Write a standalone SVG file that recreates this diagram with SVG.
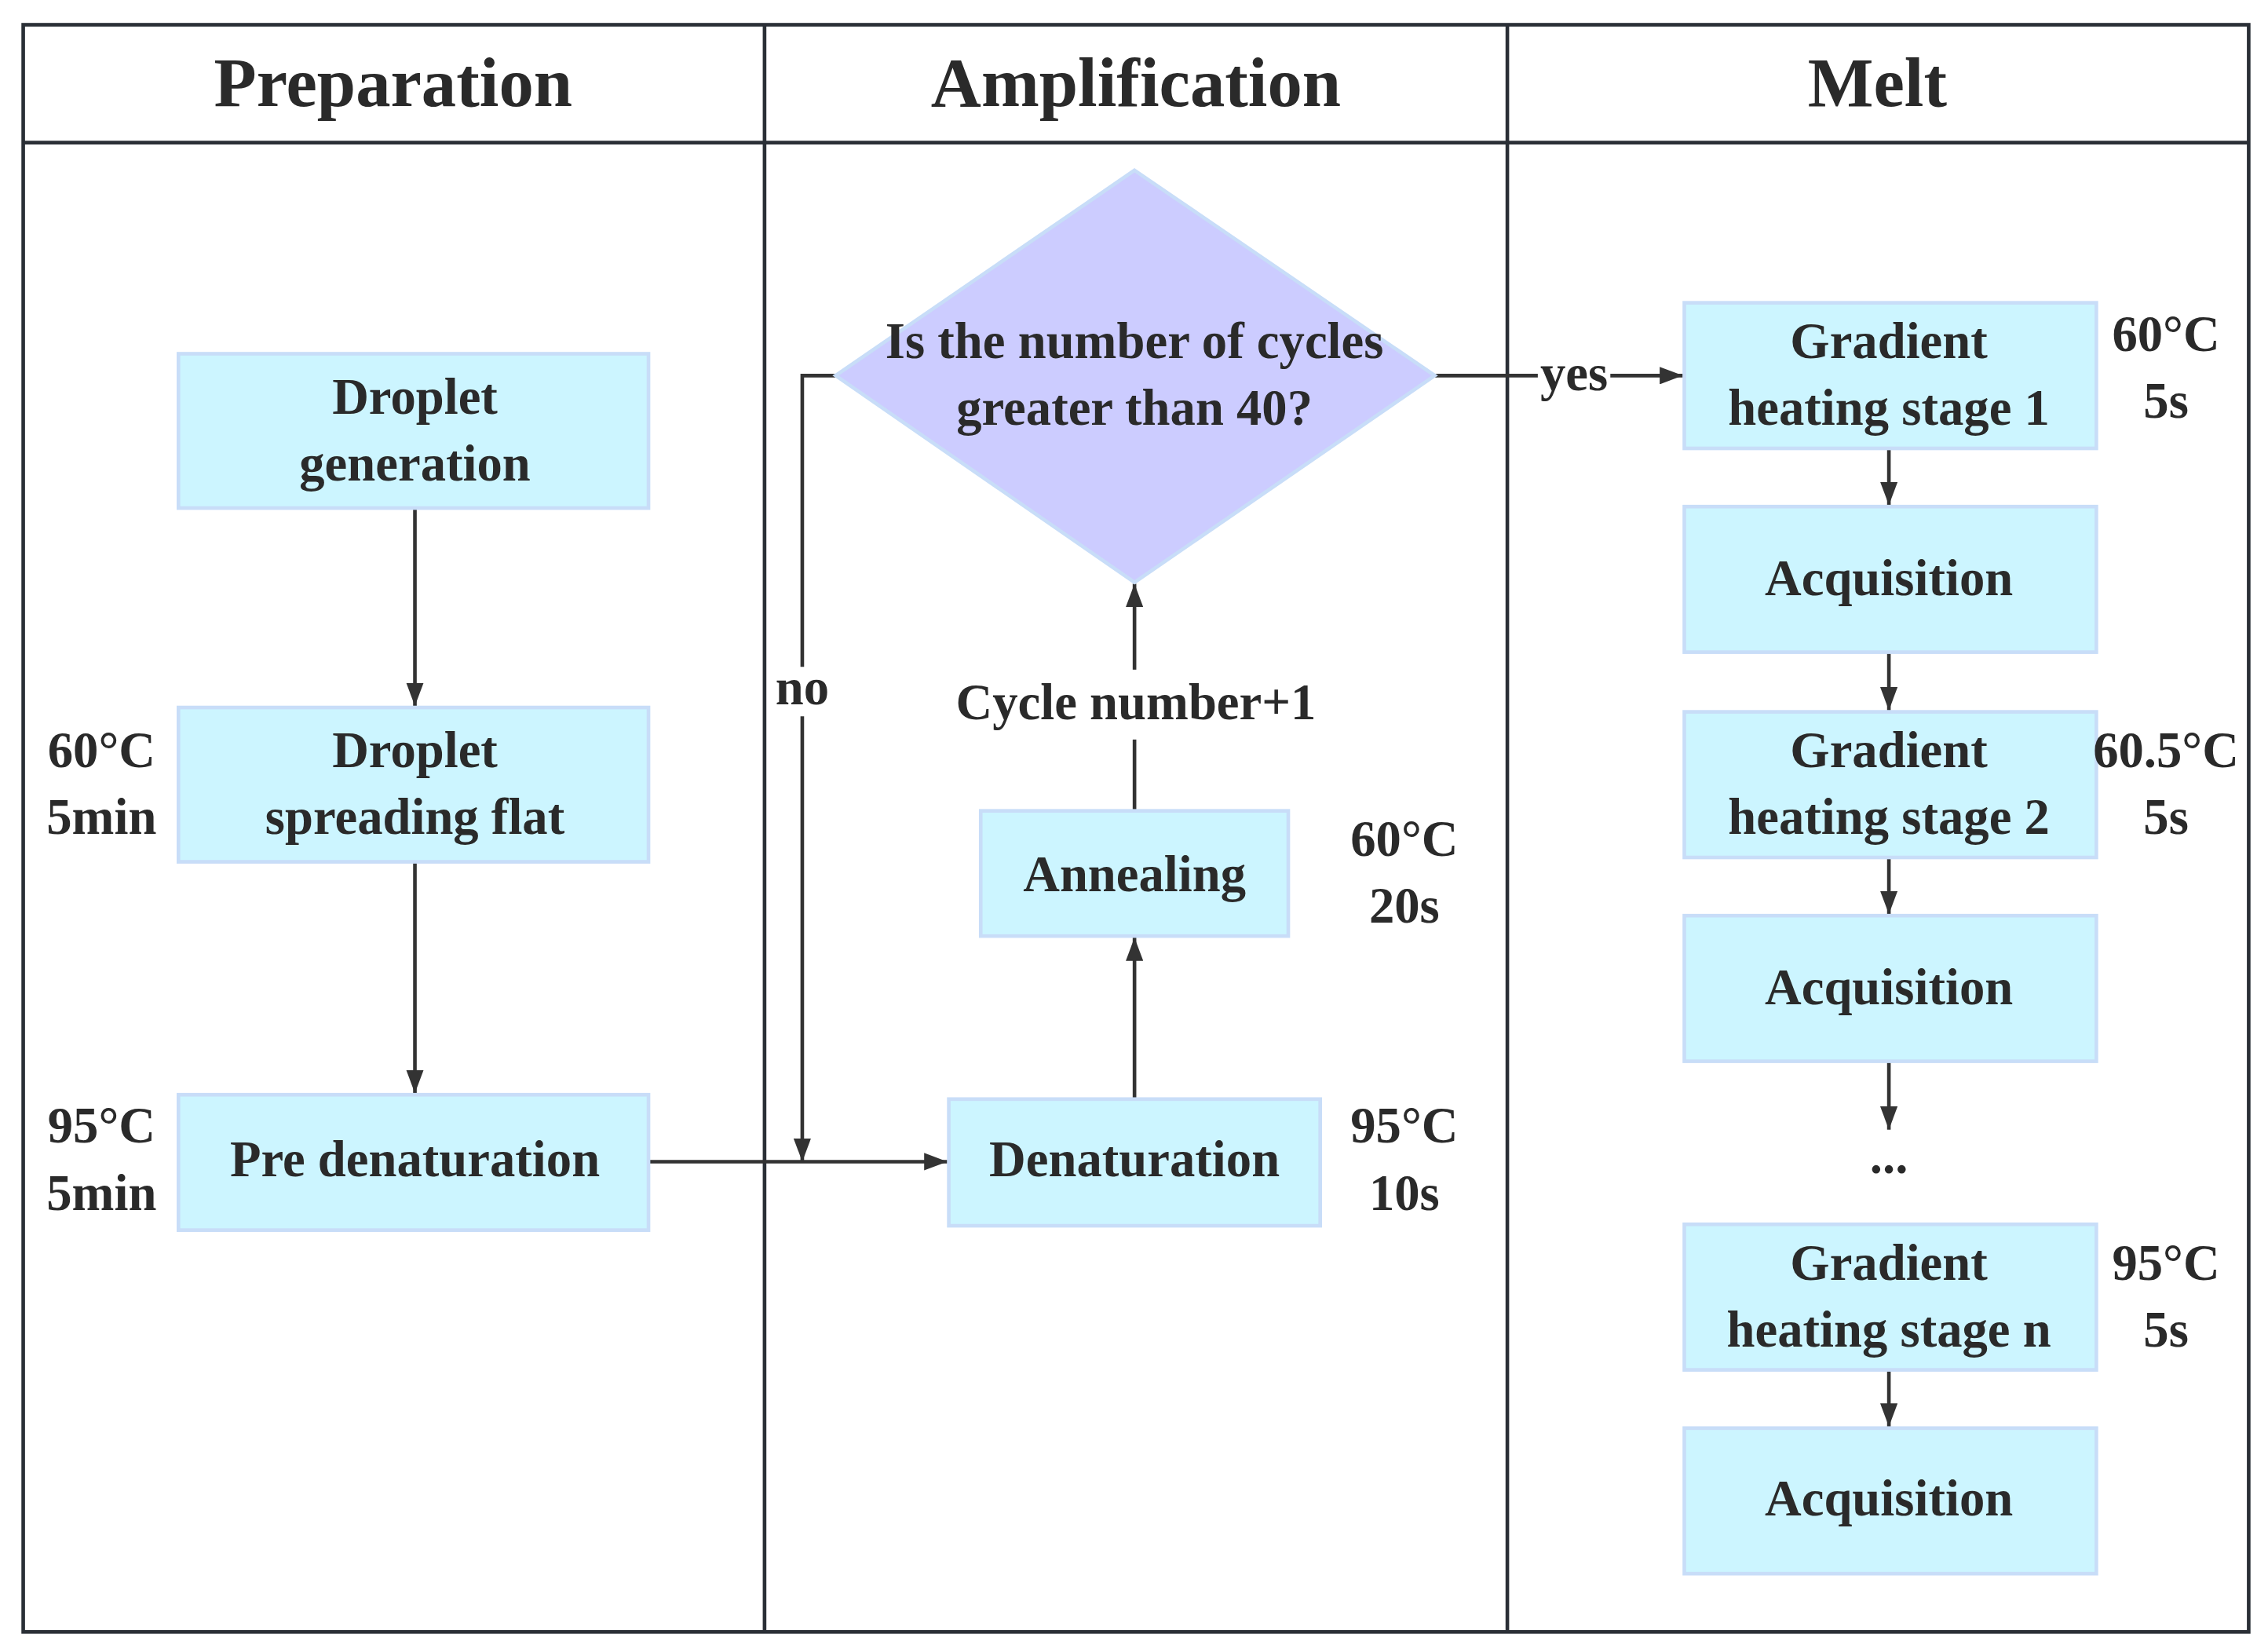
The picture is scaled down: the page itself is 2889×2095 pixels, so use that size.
<svg xmlns="http://www.w3.org/2000/svg" width="2889" height="2095" viewBox="0 0 2889 2095">
<defs>
<marker id="ah" viewBox="0 0 16 12" refX="16" refY="6" markerWidth="16" markerHeight="12" markerUnits="userSpaceOnUse" orient="auto">
<path d="M0,0 L16,6 L0,12 z" fill="#333"/>
</marker>
<style>
text{font-family:"Liberation Serif","Times New Roman",serif;font-weight:bold;fill:#2a2a2a;text-anchor:middle}
.h{font-size:48px}
.t{font-size:35px}
.box{fill:#CCF5FF;stroke:#C8DDF8;stroke-width:2.5}
.ln{stroke:#333;stroke-width:2.5;fill:none}
.fr{stroke:#2a2f36;stroke-width:2.5;fill:none}
</style>
</defs>
<rect width="2889" height="2095" fill="#fff"/>
<g transform="scale(1.848,1.854)">
<g id="frame">
<rect class="fr" x="16" y="17" width="1534" height="1104"/>
<line class="fr" x1="16" y1="98" x2="1550" y2="98"/>
<line class="fr" x1="527" y1="17" x2="527" y2="1121"/>
<line class="fr" x1="1039" y1="17" x2="1039" y2="1121"/>
<text class="h" x="271" y="73">Preparation</text>
<text class="h" x="783" y="73">Amplification</text>
<text class="h" x="1294" y="73">Melt</text>
</g>
<g id="connectors">
<line class="ln" x1="286" y1="349" x2="286" y2="485" marker-end="url(#ah)"/>
<line class="ln" x1="286" y1="592" x2="286" y2="751" marker-end="url(#ah)"/>
<line class="ln" x1="447" y1="798" x2="653" y2="798" marker-end="url(#ah)"/>
<line class="ln" x1="782" y1="755" x2="782" y2="644" marker-end="url(#ah)"/>
<polyline class="ln" points="782,557 782,508"/>
<line class="ln" x1="782" y1="460" x2="782" y2="401" marker-end="url(#ah)"/>
<polyline class="ln" points="576,258 553,258 553,458"/>
<line class="ln" x1="553" y1="492" x2="553" y2="798" marker-end="url(#ah)"/>
<line class="ln" x1="989" y1="258" x2="1060" y2="258"/>
<line class="ln" x1="1110" y1="258" x2="1160" y2="258" marker-end="url(#ah)"/>
<line class="ln" x1="1302" y1="308" x2="1302" y2="347" marker-end="url(#ah)"/>
<line class="ln" x1="1302" y1="448" x2="1302" y2="488" marker-end="url(#ah)"/>
<line class="ln" x1="1302" y1="589" x2="1302" y2="628" marker-end="url(#ah)"/>
<line class="ln" x1="1302" y1="729" x2="1302" y2="776" marker-end="url(#ah)"/>
<line class="ln" x1="1302" y1="941" x2="1302" y2="980" marker-end="url(#ah)"/>
<text class="t" x="783" y="494">Cycle number+1</text>
<text class="t" x="553" y="484">no</text>
<text class="t" x="1085" y="268">yes</text>
<text class="t" x="1302" y="806">...</text>
</g>
<g id="droplet-generation"><rect class="box" x="123" y="243" width="324" height="106"/><text class="t" x="286" y="284">Droplet</text><text class="t" x="286" y="330">generation</text></g>
<g id="droplet-spreading"><rect class="box" x="123" y="486" width="324" height="106"/><text class="t" x="286" y="527">Droplet</text><text class="t" x="286" y="573">spreading flat</text>
<text class="t" x="70" y="527">60°C</text><text class="t" x="70" y="573">5min</text></g>
<g id="pre-denaturation"><rect class="box" x="123" y="752" width="324" height="93"/><text class="t" x="286" y="808">Pre denaturation</text>
<text class="t" x="70" y="785">95°C</text><text class="t" x="70" y="831">5min</text></g>
<g id="denaturation"><rect class="box" x="654" y="755" width="256" height="87"/><text class="t" x="782" y="808">Denaturation</text>
<text class="t" x="968" y="785">95°C</text><text class="t" x="968" y="831">10s</text></g>
<g id="annealing"><rect class="box" x="676" y="557" width="212" height="86"/><text class="t" x="782" y="612">Annealing</text>
<text class="t" x="968" y="588">60°C</text><text class="t" x="968" y="634">20s</text></g>
<g id="decision"><polygon points="782,117 989,258 782,400 576,258" fill="#CCCCFF" stroke="#C8DDF8" stroke-width="2.5"/>
<text class="t" x="782" y="246">Is the number of cycles</text><text class="t" x="782" y="292">greater than 40?</text></g>
<g id="gradient-1"><rect class="box" x="1161" y="208" width="284" height="100"/><text class="t" x="1302" y="246">Gradient</text><text class="t" x="1302" y="292">heating stage 1</text>
<text class="t" x="1493" y="241">60°C</text><text class="t" x="1493" y="287">5s</text></g>
<g id="acquisition-1"><rect class="box" x="1161" y="348" width="284" height="100"/><text class="t" x="1302" y="409">Acquisition</text></g>
<g id="gradient-2"><rect class="box" x="1161" y="489" width="284" height="100"/><text class="t" x="1302" y="527">Gradient</text><text class="t" x="1302" y="573">heating stage 2</text>
<text class="t" x="1493" y="527">60.5°C</text><text class="t" x="1493" y="573">5s</text></g>
<g id="acquisition-2"><rect class="box" x="1161" y="629" width="284" height="100"/><text class="t" x="1302" y="690">Acquisition</text></g>
<g id="gradient-n"><rect class="box" x="1161" y="841" width="284" height="100"/><text class="t" x="1302" y="879">Gradient</text><text class="t" x="1302" y="925">heating stage n</text>
<text class="t" x="1493" y="879">95°C</text><text class="t" x="1493" y="925">5s</text></g>
<g id="acquisition-n"><rect class="box" x="1161" y="981" width="284" height="100"/><text class="t" x="1302" y="1041">Acquisition</text></g>
</g>
</svg>
